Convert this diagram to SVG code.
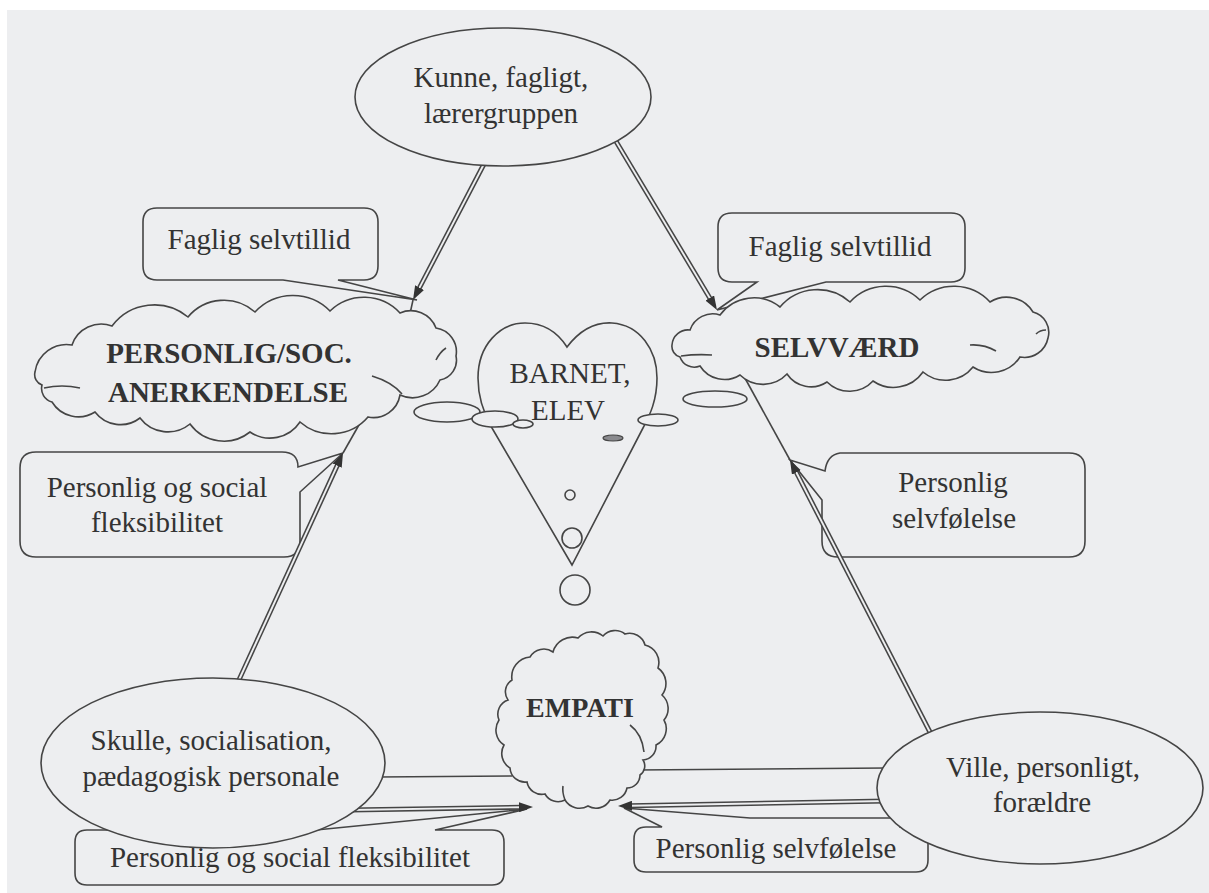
<svg xmlns="http://www.w3.org/2000/svg" width="1209" height="893" viewBox="0 0 1209 893">
  <style>
    .bg { fill: #edeef0; }
    .shape { fill: #edeef0; stroke: #454545; stroke-width: 1.6; }
    .stroke { fill: none; stroke: #454545; stroke-width: 1.6; }
    .dbl-out { fill: none; stroke: #454545; stroke-width: 5; }
    .dbl-in { fill: none; stroke: #edeef0; stroke-width: 1.9; }
    .head { fill: none; stroke: none; }
    .t { font-family: "Liberation Serif", "Times New Roman", serif; font-size: 29px; fill: #333333; text-anchor: middle; }
    .b { font-weight: bold; }
  </style>
  <defs>
    <marker id="ah" viewBox="0 0 14 10" markerWidth="14" markerHeight="10" markerUnits="userSpaceOnUse" refX="14" refY="5" orient="auto">
      <path d="M0,0 L14,5 L0,10 Z" fill="#333"/>
    </marker>
  </defs>

  <!-- paper -->
  <rect class="bg" x="0" y="0" width="1209" height="893"/>
  <rect x="0" y="0" width="1209" height="10" fill="#ffffff"/>
  <rect x="0" y="0" width="7" height="893" fill="#ffffff"/>

  <!-- callouts -->
  <g id="callout-faglig-left">
    <path class="shape" d="M157,208 H364 Q378,208 378,222 V266 Q378,280 364,280 H338 L417,300 L283,280 H157 Q143,280 143,266 V222 Q143,208 157,208 Z"/>
    <text class="t" x="259" y="249">Faglig selvtillid</text>
  </g>
  <g id="callout-faglig-right">
    <path class="shape" d="M732,213 H951 Q965,213 965,227 V268 Q965,282 951,282 H826 L717,310 L757,282 H732 Q718,282 718,268 V227 Q718,213 732,213 Z"/>
    <text class="t" x="840" y="256">Faglig selvtillid</text>
  </g>
  <g id="callout-fleks-left">
    <path class="shape" d="M36,452 H282 Q298,452 298,467 L343,453 L300,492 V541 Q300,557 284,557 H36 Q20,557 20,541 V468 Q20,452 36,452 Z"/>
    <text class="t" x="157" y="497">Personlig og social</text>
    <text class="t" x="157" y="532">fleksibilitet</text>
  </g>
  <g id="callout-selvfoelelse-right">
    <path class="shape" d="M840,453 H1069 Q1085,453 1085,469 V541 Q1085,557 1069,557 H838 Q822,557 822,541 V500 L790,460 L825,471 Q827,455 840,453 Z"/>
    <text class="t" x="953" y="492">Personlig</text>
    <text class="t" x="954" y="528">selvfølelse</text>
  </g>
  <g id="callout-fleks-bottom">
    <path class="shape" d="M87,830 H316 L527,809 L435,830 H492 Q504,830 504,842 V873 Q504,885 492,885 H87 Q75,885 75,873 V842 Q75,830 87,830 Z"/>
    <text class="t" x="290" y="867">Personlig og social fleksibilitet</text>
  </g>
  <g id="callout-selvfoelelse-bottom">
    <path class="shape" d="M646,827 H662 L624,808 L750,818 H900 V827 H916 Q928,827 928,839 V860 Q928,872 916,872 H646 Q634,872 634,860 V839 Q634,827 646,827 Z"/>
    <text class="t" x="776" y="858">Personlig selvfølelse</text>
  </g>

  <!-- connectors -->
  <g id="connectors">
    <!-- double-line arrows -->
    <path class="dbl-out" d="M484,164 L418.6,289.4"/>
    <path class="dbl-in" d="M484,164 L418.6,289.4"/>
    <path class="head" d="M418.6,289.4 L413,300" marker-end="url(#ah)"/>

    <path class="dbl-out" d="M614,138 L710.8,299.7"/>
    <path class="dbl-in" d="M614,138 L710.8,299.7"/>
    <path class="head" d="M710.8,299.7 L717,310" marker-end="url(#ah)"/>

    <path class="dbl-out" d="M238,682 L338,463.9"/>
    <path class="dbl-in" d="M238,682 L338,463.9"/>
    <path class="head" d="M338,463.9 L343,453" marker-end="url(#ah)"/>

    <path class="dbl-out" d="M933,738 L795.5,470.7"/>
    <path class="dbl-in" d="M933,738 L795.5,470.7"/>
    <path class="head" d="M795.5,470.7 L790,460" marker-end="url(#ah)"/>

    <path class="dbl-out" d="M350,810 L521,807.2"/>
    <path class="dbl-in" d="M350,810 L521,807.2"/>
    <path class="head" d="M521,807.2 L533,807" marker-end="url(#ah)"/>

    <path class="dbl-out" d="M886,801 L630,805.8"/>
    <path class="dbl-in" d="M886,801 L630,805.8"/>
    <path class="head" d="M630,805.8 L618,806" marker-end="url(#ah)"/>

    <!-- single continuation lines -->
    <path class="stroke" d="M413,300 L406,332"/>
    <path class="stroke" d="M790,460 L735,360"/>
    <path class="stroke" d="M343,453 L372,402"/>
    <path class="stroke" d="M378,777 L512,776"/>
    <path class="stroke" d="M636,770 L886,768"/>
  </g>

  <!-- top ellipse -->
  <g id="node-kunne">
    <ellipse class="shape" cx="503" cy="97" rx="148" ry="69"/>
    <text class="t" x="501" y="87">Kunne, fagligt,</text>
    <text class="t" x="501" y="123">lærergruppen</text>
  </g>

  <!-- left cloud -->
  <g id="node-anerkendelse">
    <path class="shape" d="M35,372 A32,32 0 0 1 72,345 A31,31 0 0 1 112,326 A53,53 0 0 1 188,317 A47,47 0 0 1 255,312 A52,52 0 0 1 330,311 A49,49 0 0 1 400,313 A27,27 0 0 1 436,328 A24,24 0 0 1 456,356 A20,20 0 0 1 440,380 A30,30 0 0 1 400,395 A27,27 0 0 1 368,417 A48,48 0 0 1 300,422 A36,36 0 0 1 250,432 A42,42 0 0 1 190,424 A35,35 0 0 1 140,418 A32,32 0 0 1 95,412 A31,31 0 0 1 52,402 A14,14 0 0 1 42,385 A11,11 0 0 1 35,372 Z"/>
    <path class="stroke" d="M44,388 Q62,384 80,388"/>
    <path class="stroke" d="M372,376 Q392,382 402,394"/>
    <path class="stroke" d="M436,360 Q440,352 446,348"/>
    <text class="t b" x="229" y="363">PERSONLIG/SOC.</text>
    <text class="t b" x="228" y="402">ANERKENDELSE</text>
  </g>

  <!-- right cloud -->
  <g id="node-selvvaerd">
    <path class="shape" d="M672,345 A16,16 0 0 1 690,330 A24,24 0 0 1 720,315 A42,42 0 0 1 780,307 A49,49 0 0 1 850,302 A49,49 0 0 1 920,300 A49,49 0 0 1 990,302 A31,31 0 0 1 1033,312 A21,21 0 0 1 1048,338 A24,24 0 0 1 1020,357 A34,34 0 0 1 973,367 A35,35 0 0 1 923,372 A36,36 0 0 1 873,381 A32,32 0 0 1 827,382 A29,29 0 0 1 787,374 A33,33 0 0 1 740,375 A29,29 0 0 1 700,366 A15,15 0 0 1 680,357 A11,11 0 0 1 672,345 Z"/>
    <path class="stroke" d="M681,356 Q696,354 712,355"/>
    <path class="stroke" d="M970,345 Q984,344 996,351"/>
    <path class="stroke" d="M1036,334 Q1040,330 1046,330"/>
    <text class="t b" x="837" y="357">SELVVÆRD</text>
  </g>

  <!-- heart with thought bubbles -->
  <g id="node-barnet">
    <path class="shape" d="M567,347 C580,330 595,322 612,323 C640,325 657,350 657,378 C657,400 650,415 643,428 L572,565 L492,428 C484,414 478,398 478,378 C478,345 500,323 525,323 C545,323 558,333 567,347 Z"/>
    <text class="t" x="570" y="383">BARNET,</text>
    <ellipse class="shape" cx="447" cy="412" rx="33" ry="10"/>
    <ellipse class="shape" cx="495" cy="419" rx="23" ry="8"/>
    <ellipse class="shape" cx="523" cy="424" rx="10" ry="4"/>
    <ellipse class="shape" cx="658" cy="420" rx="20" ry="6"/>
    <ellipse class="shape" cx="715" cy="399" rx="32" ry="8"/>
    <text class="t" x="568" y="420">ELEV</text>
    <ellipse cx="613" cy="438" rx="10" ry="3" fill="#8a8a8e" stroke="#454545" stroke-width="1.2"/>
    <circle class="shape" cx="570" cy="495" r="5"/>
    <circle class="shape" cx="572" cy="538" r="10"/>
    <circle class="shape" cx="575" cy="590" r="15"/>
  </g>

  <!-- centre bottom cloud -->
  <g id="node-empati">
    <path class="shape" d="M512,680 A20,20 0 0 1 530,657 A16,16 0 0 1 553,652 A20,20 0 0 1 578,638 A18,18 0 0 1 603,636 A16,16 0 0 1 625,634 A16,16 0 0 1 645,645 A18,18 0 0 1 658,668 A19,19 0 0 1 662,695 A18,18 0 0 1 664,720 A18,18 0 0 1 656,745 A14,14 0 0 1 643,760 A11,11 0 0 1 640,775 A13,13 0 0 1 627,788 A15,15 0 0 1 610,800 A16,16 0 0 1 588,806 A17,17 0 0 1 565,800 A15,15 0 0 1 545,794 A15,15 0 0 1 527,782 A15,15 0 0 1 510,768 A17,17 0 0 1 504,745 A18,18 0 0 1 499,720 A15,15 0 0 1 508,700 A14,14 0 0 1 512,680 Z"/>
    <path class="stroke" d="M630,725 Q642,734 644,752"/>
    <path class="stroke" d="M563,786 Q562,792 565,800"/>
    <text class="t b" x="580" y="717" style="font-size:28px">EMPATI</text>
  </g>

  <!-- bottom-left ellipse -->
  <g id="node-skulle">
    <ellipse class="shape" cx="213" cy="763" rx="172" ry="85"/>
    <text class="t" x="211" y="750">Skulle, socialisation,</text>
    <text class="t" x="211" y="786">pædagogisk personale</text>
  </g>

  <!-- bottom-right ellipse -->
  <g id="node-ville">
    <ellipse class="shape" cx="1040" cy="788" rx="163" ry="76"/>
    <text class="t" x="1043" y="777">Ville, personligt,</text>
    <text class="t" x="1042" y="812">forældre</text>
  </g>
</svg>
